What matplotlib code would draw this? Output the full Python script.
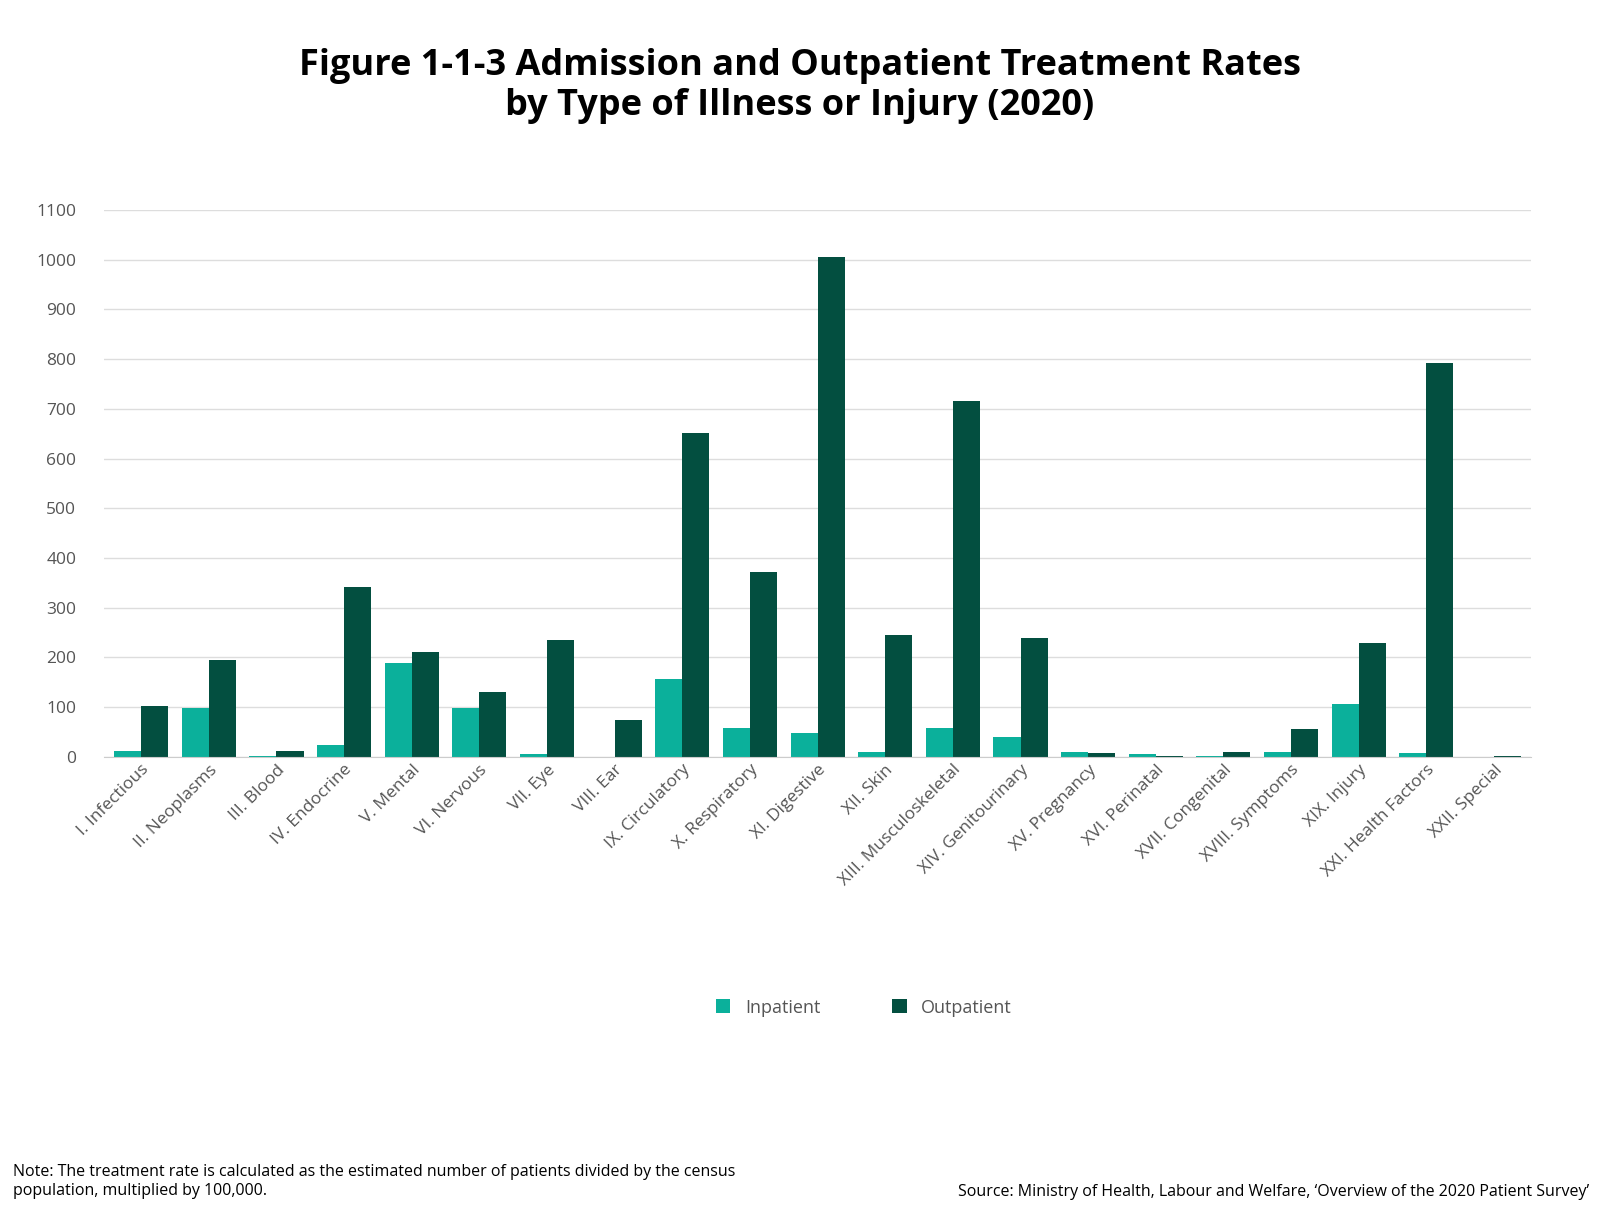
import matplotlib
matplotlib.use("Agg")
import matplotlib.pyplot as plt
import numpy as np

categories = ["I. Infectious","II. Neoplasms","III. Blood","IV. Endocrine","V. Mental","VI. Nervous",
              "VII. Eye","VIII. Ear","IX. Circulatory","X. Respiratory","XI. Digestive","XII. Skin",
              "XIII. Musculoskeletal","XIV. Genitourinary","XV. Pregnancy","XVI. Perinatal",
              "XVII. Congenital","XVIII. Symptoms","XIX. Injury","XXI. Health Factors","XXII. Special"]
inpatient = [12, 99, 2, 24, 188, 99, 6, 0, 157, 59, 48, 9, 58, 40, 10, 5, 2, 9, 107, 7, 0]
outpatient = [102, 195, 12, 342, 211, 130, 236, 75, 652, 371, 1006, 246, 716, 240, 8, 2, 10, 57, 229, 793, 2]
yticks = list(range(0, 1101, 100))

plt.rcParams['font.family'] = ['Open Sans', 'DejaVu Sans']
fig = plt.figure(figsize=(16, 12.28), dpi=100)
ax = fig.add_axes([0.065, 0.3836, 0.892, 0.4454])
x = np.arange(len(categories))
w = 0.4
ax.bar(x - w/2, inpatient, w, color="#0BB09B", label="Inpatient")
ax.bar(x + w/2, outpatient, w, color="#034F40", label="Outpatient")
ax.set_ylim(0, 1100)
ax.set_xlim(-0.55, len(categories) - 0.45)
ax.set_yticks(yticks)
ax.grid(axis='y', color='#dddddd', linewidth=1)
ax.set_axisbelow(True)
for s in ax.spines.values():
    s.set_visible(False)
ax.spines['bottom'].set_visible(True)
ax.spines['bottom'].set_color('#cccccc')
ax.tick_params(axis='both', length=0, colors='#555555', labelsize=12.5)
ax.tick_params(axis='y', pad=20)
ax.set_xticks(x)
ax.set_xticklabels(categories, rotation=45, ha='right', rotation_mode='anchor')
ax.legend(loc='upper center', bbox_to_anchor=(0.54, 0.200), bbox_transform=fig.transFigure,
          ncol=2, frameon=False, fontsize=13, handlelength=0.8, handleheight=0.8,
          columnspacing=4, labelcolor='#555555')
fig.text(0.5, 0.93, "Figure 1-1-3 Admission and Outpatient Treatment Rates\nby Type of Illness or Injury (2020)",
         ha='center', va='center', fontsize=26, fontweight='bold', linespacing=1.15)
fig.text(0.008, 0.038, "Note: The treatment rate is calculated as the estimated number of patients divided by the census\npopulation, multiplied by 100,000.",
         ha='left', va='center', fontsize=11.5)
fig.text(0.993, 0.029, "Source: Ministry of Health, Labour and Welfare, \u2018Overview of the 2020 Patient Survey\u2019",
         ha='right', va='center', fontsize=11.5)
fig.savefig("out.png", dpi=100)
